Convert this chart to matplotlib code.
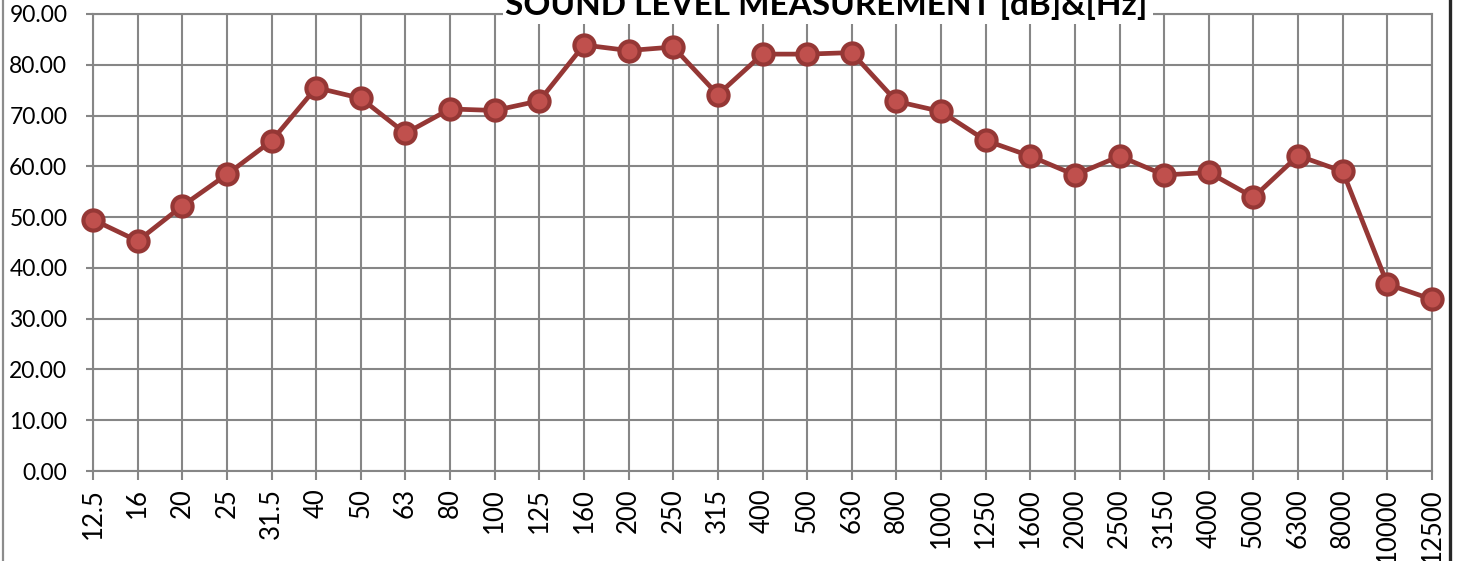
import matplotlib
matplotlib.use("Agg")
import matplotlib.pyplot as plt
from matplotlib.patches import Rectangle
from matplotlib.lines import Line2D

# 1/3 octave band centre frequencies [Hz]
freqs = ["12.5", "16", "20", "25", "31.5", "40", "50", "63", "80", "100",
         "125", "160", "200", "250", "315", "400", "500", "630", "800", "1000",
         "1250", "1600", "2000", "2500", "3150", "4000", "5000", "6300", "8000",
         "10000", "12500"]
# measured level [dB]
levels = [49.5, 45.3, 52.2, 58.4, 65.0, 75.5, 73.4, 66.5, 71.3, 71.0,
          72.9, 83.9, 82.8, 83.5, 74.1, 82.1, 82.1, 82.4, 72.8, 70.8,
          65.1, 62.0, 58.3, 62.0, 58.3, 58.8, 53.9, 62.1, 59.0,
          36.8, 33.8]
yticks = [0, 10, 20, 30, 40, 50, 60, 70, 80, 90]
title = "SOUND LEVEL MEASUREMENT [dB]&[Hz]"

W, H = 1459, 561
grid_c = "#868686"

plt.rcParams["font.family"] = ["Lato", "DejaVu Sans"]
fig = plt.figure(figsize=(W / 100, H / 100), dpi=100)
ax = fig.add_axes([93 / W, 1 - 471 / H, (1432 - 93) / W, (471 - 14) / H])

x = list(range(len(freqs)))
ax.plot(x, levels, "-o", color="#953735", lw=3.4,
        markersize=14.5, markerfacecolor="#C0504D", markeredgecolor="#953735",
        markeredgewidth=3, clip_on=False, zorder=3)

ax.set_xlim(0, len(freqs) - 1)
ax.set_ylim(0, 90)
ax.set_xticks(x)
ax.set_xticklabels(freqs, rotation=90, fontsize=18.5)
ax.set_yticks(yticks)
ax.set_yticklabels(["%.2f" % v for v in yticks], fontsize=16.5)
ax.grid(True, color=grid_c, lw=1.5)
ax.set_axisbelow(True)
for s in ax.spines.values():
    s.set_color(grid_c)
    s.set_linewidth(1.5)
ax.tick_params(axis="x", length=6.5, width=1.5, color=grid_c, pad=6)
ax.tick_params(axis="y", length=5, width=1.5, color=grid_c, pad=13.5)

# title box sits over the top gridline, text cut off at the top edge
fig.add_artist(Rectangle((503 / W, 1 - 24 / H), (1153 - 503) / W, 24 / H,
                         transform=fig.transFigure, facecolor="white",
                         edgecolor="none", zorder=5))
fig.text(826 / W, 1 - 15 / H, title, ha="center", va="baseline",
         fontsize=24, fontweight="bold", zorder=6)

# chart frame edges
fig.add_artist(Line2D([2.5 / W, 2.5 / W], [0, 1], transform=fig.transFigure,
                      color="#8c8c8c", lw=1.6))
fig.add_artist(Line2D([1450 / W, 1450 / W], [0, 1], transform=fig.transFigure,
                      color="#262626", lw=2.4))

fig.savefig("out.png", dpi=100)
